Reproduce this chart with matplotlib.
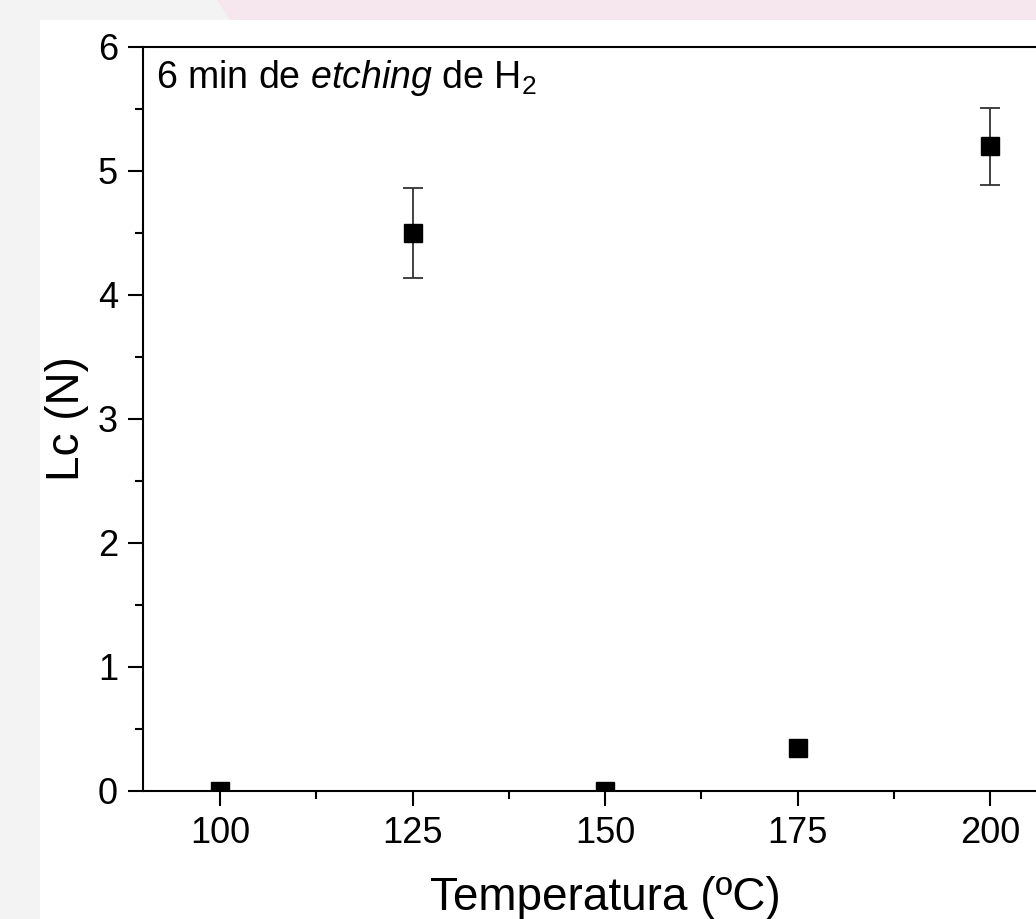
import matplotlib.pyplot as plt
from matplotlib.patches import Rectangle, Polygon
from matplotlib.ticker import MultipleLocator

# ==========================
# dados
# ==========================

temperatura = [100, 125, 150, 175, 200]
lc = [0.0, 4.5, 0.0, 0.35, 5.2]
erro = [0.0, 0.36, 0.0, 0.0, 0.31]

plt.rcParams["font.family"] = ["Liberation Sans", "DejaVu Sans"]
plt.rcParams["mathtext.fontset"] = "custom"
plt.rcParams["mathtext.rm"] = "Liberation Sans"
plt.rcParams["mathtext.it"] = "Liberation Sans:italic"

W, H = 1036, 919
fig = plt.figure(figsize=(W / 100, H / 100), dpi=100)
fig.patch.set_facecolor("#f3f3f3")

# fundo: faixa rosa e painel branco
fig.patches.append(Polygon([(217 / W, 1), (1, 1), (1, 1 - 20 / H), (230 / W, 1 - 20 / H)],
                           closed=True, transform=fig.transFigure,
                           facecolor="#f6e6ee", edgecolor="none", zorder=-2))
fig.patches.append(Rectangle((40 / W, 0), 1 - 40 / W, 1 - 20 / H,
                             transform=fig.transFigure,
                             facecolor="white", edgecolor="none", zorder=-1))

ax = fig.add_axes([143 / W, 128 / H, 924 / W, 744 / H])
ax.set_facecolor("none")

# barras de erro só onde existem
com_erro = [i for i, e in enumerate(erro) if e > 0]
ax.errorbar([temperatura[i] for i in com_erro], [lc[i] for i in com_erro],
            yerr=[erro[i] for i in com_erro], fmt="none",
            ecolor="#333333", elinewidth=1.3, capsize=7, capthick=1.3, zorder=2)
ax.plot(temperatura, lc, "s", color="black", ms=13, zorder=3)

ax.set_xlim(90, 210)
ax.set_ylim(0, 6)
ax.xaxis.set_major_locator(MultipleLocator(25))
ax.xaxis.set_minor_locator(MultipleLocator(12.5))
ax.yaxis.set_major_locator(MultipleLocator(1))
ax.yaxis.set_minor_locator(MultipleLocator(0.5))

for s in ax.spines.values():
    s.set_linewidth(1.5)
    s.set_zorder(4)

ax.tick_params(which="both", direction="out", width=1.5, labelsize=26)
ax.tick_params(which="major", length=11, pad=7)
ax.tick_params(which="minor", length=6)

ax.set_xlabel("Temperatura (ºC)", fontsize=33, labelpad=18)
ax.set_ylabel("Lc (N)", fontsize=33, labelpad=6)

ax.text(0.014, 0.985, r"6 min de $\it{etching}$ de H$_2$", transform=ax.transAxes,
        fontsize=27, va="top", ha="left")

plt.savefig("out.png", dpi=100, facecolor=fig.get_facecolor())
